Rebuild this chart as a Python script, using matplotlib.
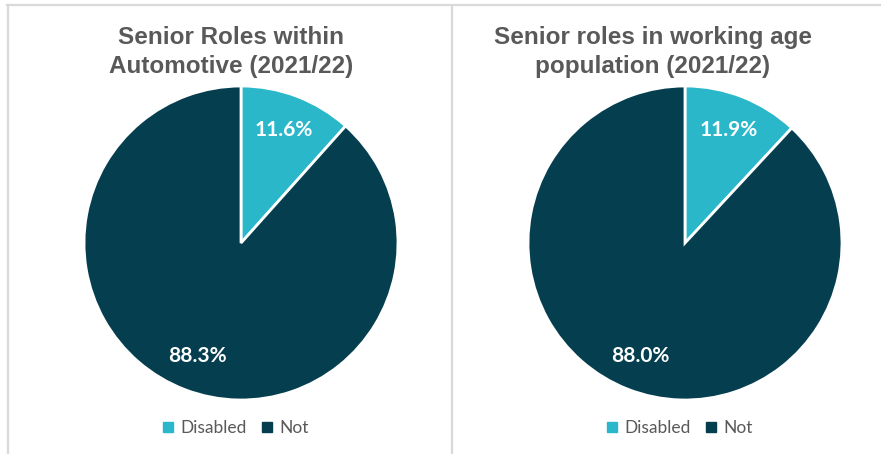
import matplotlib.pyplot as plt
from matplotlib.lines import Line2D

titles = ["Senior Roles within\nAutomotive (2021/22)",
          "Senior roles in working age\npopulation (2021/22)"]
categories = ["Disabled", "Not"]
automotive = [11.6, 88.3]
working_age = [11.9, 88.0]
colors = ["#2AB7CA", "#053F4F"]

W, H = 881, 454
fig = plt.figure(figsize=(W / 100, H / 100), dpi=100)

# pie centres in pixels and a shared radius
centres = [(241, 243), (685, 243)]
radius = 157
pad = 1.02
title_x = [231, 653]

for (cx, cy), tx, title, vals in zip(centres, title_x, titles, [automotive, working_age]):
    r = radius * pad
    ax = fig.add_axes([(cx - r) / W, 1 - (cy + r) / H, 2 * r / W, 2 * r / H])
    total = sum(vals)
    wedges, _, autotexts = ax.pie(
        vals, colors=colors, startangle=90, counterclock=False,
        autopct=lambda p, t=total: f"{p * t / 100:.1f}%", pctdistance=0.77,
        wedgeprops=dict(edgecolor="white", linewidth=2),
        textprops=dict(color="white", fontsize=15, fontweight="bold",
                       family=["Lato", "DejaVu Sans"]))
    ax.set_xlim(-pad, pad)
    ax.set_ylim(-pad, pad)
    ax.set_aspect("equal")

    fig.text(tx / W, 1 - 52 / H, title, ha="center", va="center",
             fontsize=17.5, fontweight="bold", color="#595959", linespacing=1.33,
             family=["Liberation Sans", "DejaVu Sans"])

    handles = [Line2D([], [], marker="s", linestyle="", markersize=7,
                      color=c) for c in colors]
    fig.legend(handles, categories, loc="center", ncol=2,
               bbox_to_anchor=((cx - 6) / W, 1 - 428 / H), frameon=False,
               handletextpad=0.3, columnspacing=0.8, handlelength=0.8,
               prop=dict(family=["Lato", "DejaVu Sans"], size=12.5),
               labelcolor="#595959")

# panel borders
border = "#D9D9D9"
fig.add_artist(Line2D([7 / W, 1], [1 - 4.5 / H] * 2, color=border, lw=1.6))
fig.add_artist(Line2D([8 / W] * 2, [0, 1 - 4.5 / H], color=border, lw=1.6))
fig.add_artist(Line2D([452 / W] * 2, [0, 1 - 4.5 / H], color=border, lw=1.6))

fig.savefig("out.png", dpi=100)
